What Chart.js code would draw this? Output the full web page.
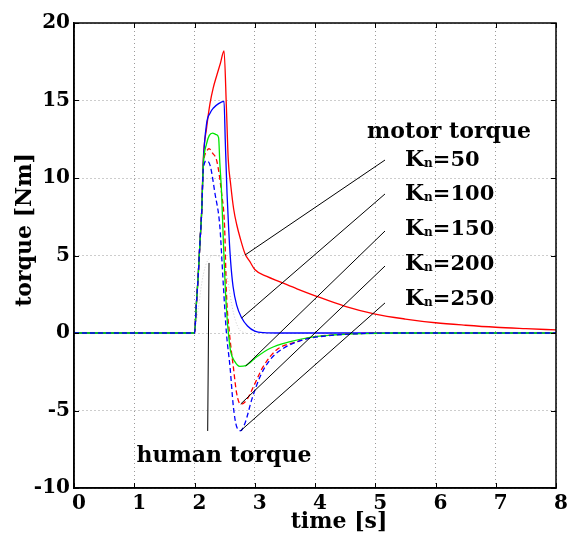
<!DOCTYPE html>
<html><head><meta charset="utf-8">
<script src="https://cdn.jsdelivr.net/npm/chart.js@4/dist/chart.umd.min.js"></script>
<style>html,body{margin:0;padding:0;background:#fff}#wrap{width:575px;height:536px}</style>
</head><body><div id="wrap"><canvas id="c" width="575" height="536"></canvas></div>
<script>
// ---- data (time [s], torque [Nm]) ----
const xRange = [0, 8];
const yRange = [-10, 20];
const xStep = 1;
const yStep = 5;

const kn50 = [[0,0],[2,0],[2.03,1.8],[2.06,3.6],[2.09,5.8],[2.12,7.9],[2.146,11.2],[2.2,13.2],[2.257,14.8],[2.31,15.8],[2.368,16.6],[2.43,17.4],[2.49,18.2],[2.53,14.5],[2.56,11.2],[2.6,9.6],[2.65,8.0],[2.7,7.0],[2.76,6.1],[2.84,5.1],[2.92,4.6],[3.0,4.1],[3.2,3.65],[3.42,3.3],[3.7,2.85],[3.97,2.45],[4.5,1.72],[5.0,1.22],[5.5,0.9],[6.0,0.66],[6.5,0.5],[7.0,0.37],[7.5,0.28],[8.0,0.2]];
const kn100 = [[0,0],[2,0],[2.03,1.8],[2.06,3.6],[2.09,5.8],[2.12,7.9],[2.146,11.0],[2.2,13.5],[2.26,14.2],[2.31,14.5],[2.4,14.8],[2.49,14.95],[2.51,12.5],[2.54,9.0],[2.57,6.5],[2.6,4.6],[2.64,3.0],[2.7,1.8],[2.78,1.0],[2.88,0.45],[3.0,0.12],[3.15,0.02],[3.4,0],[8,0]];
const kn150 = [[0,0],[2,0],[2.03,1.8],[2.06,3.6],[2.09,5.8],[2.12,7.9],[2.146,10.8],[2.2,12.2],[2.246,12.75],[2.3,12.9],[2.36,12.8],[2.4,12.6],[2.42,11.0],[2.45,9.0],[2.48,5.8],[2.51,3.0],[2.54,1.0],[2.57,-0.3],[2.6,-1.2],[2.67,-1.85],[2.75,-2.15],[2.85,-2.1],[3.03,-1.55],[3.25,-1.0],[3.59,-0.56],[3.92,-0.28],[4.3,-0.13],[4.8,-0.04],[5.3,0],[8,0]];
const kn200 = [[0,0],[2,0],[2.03,1.8],[2.06,3.6],[2.09,5.8],[2.12,7.9],[2.146,10.8],[2.2,11.7],[2.24,11.9],[2.3,11.6],[2.37,11.1],[2.45,9.0],[2.5,6.8],[2.53,2.6],[2.58,0],[2.645,-2.2],[2.7,-3.9],[2.767,-4.6],[2.87,-4.3],[2.98,-3.45],[3.14,-2.17],[3.36,-1.1],[3.7,-0.56],[3.92,-0.3],[4.3,-0.12],[4.8,-0.03],[5.3,0],[8,0]];
const kn250 = [[0,0],[2,0],[2.03,1.8],[2.06,3.6],[2.09,5.8],[2.12,7.9],[2.146,10.6],[2.2,11.1],[2.26,10.8],[2.34,9.0],[2.42,6.9],[2.48,3.0],[2.53,0],[2.59,-2.2],[2.645,-4.75],[2.7,-6.05],[2.767,-6.3],[2.84,-5.8],[2.95,-4.3],[3.09,-2.8],[3.25,-1.75],[3.47,-1.0],[3.8,-0.45],[4.2,-0.18],[4.7,-0.05],[5.2,0],[8,0]];
const humanTorque = [[2.0,0],[2.06,1.5],[2.12,3.2],[2.18,4.3],[2.24,4.8],[2.32,5.0],[2.42,4.9],[2.5,4.3],[2.56,3.2],[2.62,1.8],[2.68,0.8],[2.75,0.2],[2.85,0]];

// annotation pointer lines: [start, end] in data units
const ptrKn50  = [[2.838,5.03],[5.162,11.16]];
const ptrKn100 = [[2.783,0.97],[5.162,8.97]];
const ptrKn150 = [[2.850,-2.13],[5.162,6.58]];
const ptrKn200 = [[2.767,-4.58],[5.162,4.32]];
const ptrKn250 = [[2.767,-6.30],[5.162,1.94]];
const ptrHuman = [[2.219,-6.32],[2.241,4.52]];

const knLabels = ['50','100','150','200','250'];
const xTitle = 'time [s]';
const yTitle = 'torque [Nm]';

const toXY = a => a.map(p => ({x:p[0], y:p[1]}));
const SERIF = '"DejaVu Serif", "Liberation Serif", serif';

function curve(data, color, dash, order){
  return {data: toXY(data), borderColor: color, borderWidth: 1.3, borderDash: dash || [], showLine: true, pointRadius: 0,
          cubicInterpolationMode: 'monotone', fill: false, order: order};
}
function pointer(data){
  return {data: toXY(data), borderColor: '#000', borderWidth: 1, showLine: true, pointRadius: 0, tension: 0, fill: false, order: 0};
}

const datasets = [
  curve(kn50, '#ff0000', null, 5),
  curve(kn100, '#0000ff', null, 4),
  curve(kn150, '#00e600', null, 2),
  curve(kn200, '#ff0000', [5,3], 3),
  curve(kn250, '#0000ff', [5,3], 1),
  {data: toXY(humanTorque), borderColor: '#cccccc', borderWidth: 1, borderDash: [1,2], showLine: true, pointRadius: 0, cubicInterpolationMode: 'monotone', order: 6},
  pointer(ptrKn50), pointer(ptrKn100), pointer(ptrKn150), pointer(ptrKn200), pointer(ptrKn250), pointer(ptrHuman)
];

const decor = {
  id: 'decor',
  afterDraw(chart){
    const ctx = chart.ctx, a = chart.chartArea;
    const xs = chart.scales.x, ys = chart.scales.y;
    ctx.save();
    ctx.strokeStyle = '#000'; ctx.lineWidth = 1.5;
    ctx.strokeRect(a.left, a.top, a.right - a.left, a.bottom - a.top);
    ctx.lineWidth = 1;
    ctx.beginPath();
    for (let v = xRange[0]; v <= xRange[1]; v += xStep){
      const px = Math.round(xs.getPixelForValue(v)) + 0.5;
      ctx.moveTo(px, a.bottom); ctx.lineTo(px, a.bottom - 5);
      ctx.moveTo(px, a.top); ctx.lineTo(px, a.top + 5);
    }
    for (let v = yRange[0]; v <= yRange[1]; v += yStep){
      const py = Math.round(ys.getPixelForValue(v)) + 0.5;
      ctx.moveTo(a.left, py); ctx.lineTo(a.left + 5, py);
      ctx.moveTo(a.right, py); ctx.lineTo(a.right - 5, py);
    }
    ctx.stroke();
    ctx.fillStyle = '#000';
    ctx.font = 'bold 22px ' + SERIF;
    ctx.textAlign = 'center'; ctx.textBaseline = 'middle';
    ctx.fillText(xTitle, 339, 522);
    ctx.save();
    ctx.translate(25, 230); ctx.rotate(-Math.PI/2);
    ctx.fillText(yTitle, 0, 0);
    ctx.restore();
    ctx.textBaseline = 'alphabetic';
    ctx.textAlign = 'center';
    ctx.fillText('motor torque', 449, 138);
    ctx.fillText('human torque', 224, 462);
    ctx.textAlign = 'left';
    const baselines = [166, 200, 235, 270, 305];
    knLabels.forEach((lab, i) => {
      let x = 405; const y = baselines[i];
      ctx.font = 'bold 22px ' + SERIF;
      ctx.fillText('K', x, y); x += ctx.measureText('K').width;
      ctx.font = 'bold 12px ' + SERIF;
      ctx.fillText('n', x, y + 1); x += ctx.measureText('n').width;
      ctx.font = 'bold 21px ' + SERIF;
      ctx.fillText('=' + lab, x, y);
    });
    ctx.restore();
  }
};

new Chart(document.getElementById('c'), {
  type: 'scatter',
  data: { datasets },
  options: {
    responsive: false, animation: false,
    layout: { padding: { top: 23, right: 19, left: 0, bottom: 0 } },
    plugins: { legend: { display: false }, tooltip: { enabled: false } },
    scales: {
      x: {
        type: 'linear', min: xRange[0], max: xRange[1],
        ticks: { stepSize: xStep, autoSkip: false, maxRotation: 0, color: '#000', padding: 4, labelOffset: 5,
                 font: { family: SERIF, weight: 'bold', size: 20 } },
        grid: { color: '#9a9a9a', lineWidth: 1, drawTicks: false },
        border: { display: true, color: '#000', width: 1.5, dash: [1,3] },
        afterFit(s){ s.height = 48; }
      },
      y: {
        type: 'linear', min: yRange[0], max: yRange[1],
        ticks: { stepSize: yStep, autoSkip: false, color: '#000', padding: 4,
                 font: { family: SERIF, weight: 'bold', size: 20 } },
        grid: { color: '#9a9a9a', lineWidth: 1, drawTicks: false },
        border: { display: true, color: '#000', width: 1.5, dash: [1,3] },
        afterFit(s){ s.width = 74; }
      }
    }
  },
  plugins: [decor]
});
</script>
</body></html>
